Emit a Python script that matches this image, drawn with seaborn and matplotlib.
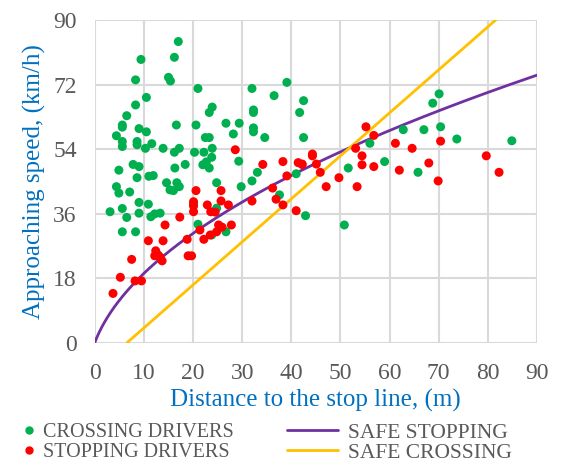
import numpy as np
import pandas as pd
import matplotlib
matplotlib.use("Agg")
import matplotlib.pyplot as plt
import seaborn as sns
from matplotlib.lines import Line2D

# ---- data (distance m, speed km/h) ----
cross_dist = [17.0, 9.4, 16.2, 8.3, 15.0, 15.4, 21.0, 32.0, 39.1, 36.5, 42.5, 41.7,
              10.5, 8.3, 6.5, 5.6, 5.6, 4.4, 5.6, 5.6, 9.0, 10.5, 8.6, 8.6, 11.6,
              10.3, 13.9, 16.6, 17.2, 16.2, 20.6, 23.3, 23.9, 22.5, 23.3, 23.9,
              20.3, 22.2, 23.8, 22.7, 22.0, 23.3, 26.7, 29.4, 28.2, 32.3, 32.3,
              32.3, 32.3, 34.6, 42.5, 29.3, 18.4, 7.8, 9.0, 4.9, 8.6, 11.0, 11.9,
              16.3, 14.6, 15.3, 16.0, 16.7, 17.2, 7.1, 4.4, 4.9, 24.8, 29.8, 32.0,
              33.1, 41.0, 37.6, 9.0, 10.9, 5.6, 3.1, 6.5, 9.0, 11.4, 12.2, 13.3,
              5.6, 8.3, 20.1, 21.0, 24.8, 23.8, 26.7, 42.9, 70.1, 68.8, 62.8,
              67.0, 70.4, 73.7, 84.9, 56.0, 59.0, 51.6, 65.8, 50.8]
cross_speed = [84.0, 79.0, 79.6, 73.3, 74.0, 73.0, 70.9, 70.9, 72.6, 68.9, 67.5, 64.2,
               68.4, 66.3, 63.3, 60.7, 60.1, 57.7, 56.1, 54.7, 59.7, 58.8, 56.1, 55.2,
               55.5, 54.2, 54.2, 60.7, 54.2, 53.1, 60.7, 64.2, 65.7, 57.2, 57.2, 54.2,
               53.1, 53.1, 51.7, 50.4, 49.6, 48.7, 61.2, 61.2, 58.2, 64.9, 64.2,
               59.9, 58.8, 57.2, 57.2, 50.6, 49.7, 49.7, 49.1, 48.1, 46.0, 46.4, 46.6,
               48.7, 44.6, 42.6, 42.4, 44.6, 43.5, 42.0, 43.5, 41.7, 44.6, 43.5, 45.1,
               47.5, 47.1, 41.2, 39.1, 38.6, 37.4, 36.5, 34.9, 36.1, 35.1, 35.9, 36.1,
               30.9, 30.9, 38.6, 33.0, 37.5, 30.0, 30.9, 35.4, 69.4, 66.8, 59.4,
               59.4, 60.2, 56.8, 56.3, 55.6, 50.5, 48.7, 47.5, 32.8]

stop_dist = [55.2, 56.8, 61.2, 64.6, 70.4, 53.1, 54.4, 54.4, 56.8, 62.0, 68.0, 69.9,
             79.7, 82.3, 49.7, 53.4, 47.1, 45.9, 45.1, 44.3, 44.3, 42.2, 28.6, 34.2,
             38.3, 41.4, 42.2, 39.1, 36.2, 20.6, 25.7, 36.9, 38.3, 41.0, 32.0, 20.1,
             20.1, 20.1, 25.7, 22.9, 23.6, 24.5, 27.2, 17.3, 21.4, 14.3, 25.2, 25.9,
             24.8, 27.8, 23.5, 22.2, 18.8, 10.9, 13.9, 7.5, 12.4, 12.9, 13.3, 13.7,
             12.2, 19.0, 19.7, 5.2, 8.2, 9.5, 3.7]
stop_speed = [60.2, 57.8, 55.6, 54.2, 56.2, 54.2, 52.1, 49.6, 49.1, 48.1, 50.1, 45.1,
              52.1, 47.5, 46.0, 43.5, 43.5, 47.5, 49.8, 52.6, 52.1, 49.8, 53.8, 49.7,
              50.5, 50.2, 49.7, 46.5, 43.1, 42.4, 42.4, 40.0, 38.4, 36.8, 39.5, 39.3,
              38.1, 36.5, 39.5, 38.4, 36.5, 36.4, 38.4, 35.0, 31.4, 32.8, 32.8, 32.2,
              30.9, 32.8, 30.0, 28.8, 28.8, 28.4, 28.4, 23.2, 25.6, 24.4, 23.8, 22.8,
              24.2, 24.2, 24.2, 18.2, 17.2, 17.2, 13.7]

# model parameters for the two threshold curves
reaction_time = 1.0      # s
deceleration = 3.1       # m/s^2
cross_time = 3.0         # s
cross_offset = 6.6       # m

x_ticks = [0, 10, 20, 30, 40, 50, 60, 70, 80, 90]
y_ticks = [0, 18, 36, 54, 72, 90]

# ---- build frames ----
pts = pd.DataFrame({
    "dist": cross_dist + stop_dist,
    "speed": cross_speed + stop_speed,
    "group": ["CROSSING DRIVERS"] * len(cross_dist) + ["STOPPING DRIVERS"] * len(stop_dist),
})
v_kmh = np.linspace(0, 80, 400)
v_ms = v_kmh / 3.6
stop_curve = pd.DataFrame({"dist": reaction_time * v_ms + v_ms ** 2 / (2 * deceleration),
                           "speed": v_kmh})
stop_curve = stop_curve[stop_curve["dist"] <= 90]
v2 = np.linspace(0, 100, 200)
cross_curve = pd.DataFrame({"dist": cross_offset + cross_time * v2 / 3.6, "speed": v2})

GREEN, RED, PURPLE, YELLOW = "#00B050", "#FF0000", "#7030A0", "#FFC000"
GRID = "#D9D9D9"
TICK = "#595959"
BLUE = "#0070C0"

sns.set_theme(style="white")
plt.rcParams["font.family"] = ["Liberation Serif", "DejaVu Serif"]

fig = plt.figure(figsize=(5.61, 4.66), dpi=100)
ax = fig.add_axes([0.169, 0.265, 0.788, 0.692])

sns.lineplot(data=stop_curve, x="dist", y="speed", color=PURPLE, lw=2, sort=False,
             ax=ax, zorder=3)
sns.lineplot(data=cross_curve, x="dist", y="speed", color=YELLOW, lw=2, sort=False,
             ax=ax, zorder=3)
sns.scatterplot(data=pts, x="dist", y="speed", hue="group",
                palette={"CROSSING DRIVERS": GREEN, "STOPPING DRIVERS": RED},
                s=42, edgecolor="none", legend=False, ax=ax, zorder=4)

ax.set_xlim(0, 90)
ax.set_ylim(0, 90)
ax.set_xticks(x_ticks)
ax.set_yticks(y_ticks)
ax.grid(True, color=GRID, lw=1.5)
ax.set_axisbelow(True)
for s in ax.spines.values():
    s.set_visible(False)
ax.tick_params(axis="both", length=0, labelsize=17, colors=TICK)
ax.tick_params(axis="x", pad=15)
ax.tick_params(axis="y", pad=13)
ax.set_xlabel("Distance to the stop line, (m)", fontsize=18, color=BLUE, labelpad=3)
ax.set_ylabel("Approaching speed, (km/h)", fontsize=18, color=BLUE, labelpad=5)

pt_handles = [
    Line2D([], [], marker="o", ls="none", color=GREEN, markersize=5),
    Line2D([], [], marker="o", ls="none", color=RED, markersize=5),
]
ln_handles = [
    Line2D([], [], color=PURPLE, lw=2),
    Line2D([], [], color=YELLOW, lw=2),
]
common = dict(frameon=False, labelcolor=TICK,
              borderpad=0, borderaxespad=0, loc="center left")
leg1 = fig.legend(pt_handles, ["CROSSING DRIVERS", "STOPPING DRIVERS"],
                  bbox_to_anchor=(0.040, 0.050), handlelength=0.7, handletextpad=0.3,
                  fontsize=14.5, labelspacing=0.05, **common)
leg2 = fig.legend(ln_handles, ["SAFE STOPPING", "SAFE CROSSING"],
                  bbox_to_anchor=(0.511, 0.050), handlelength=2.4, handletextpad=0.45,
                  fontsize=15.5, labelspacing=0.0, **common)

fig.savefig("out.png", dpi=100)
